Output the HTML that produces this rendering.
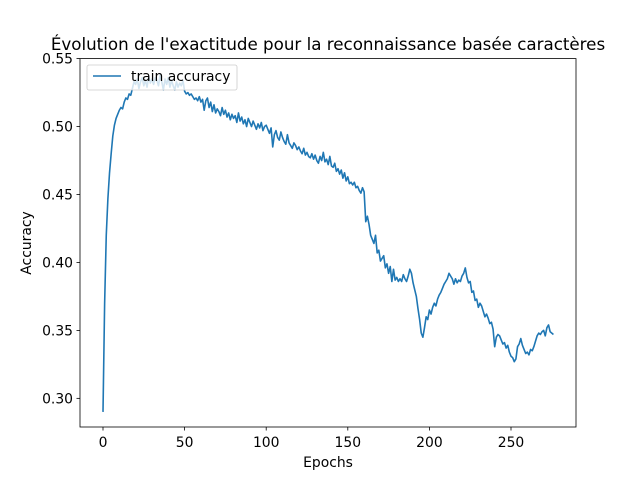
<!DOCTYPE html>
<html><head><meta charset="utf-8"><style>
body{margin:0;background:#fff}
svg{display:block;font-family:"DejaVu Sans","Liberation Sans",sans-serif}
</style></head><body>
<svg id="chart" width="640" height="480">
<rect x="0" y="0" width="640" height="480" fill="#fff"/>
<text x="328" y="50" text-anchor="middle" font-size="16.7">Évolution de l'exactitude pour la reconnaissance basée caractères</text>
<g id="xticks"></g>
<g id="yticks"></g>
<path id="line" fill="none" stroke="#1f77b4" stroke-width="1.6" stroke-linejoin="round"/>
<rect x="80" y="58.6" width="496" height="368.4" fill="none" stroke="#000" stroke-width="0.8"/>
<text x="328" y="467" text-anchor="middle" font-size="13.9">Epochs</text>
<text transform="translate(31,243) rotate(-90)" text-anchor="middle" font-size="13.9">Accuracy</text>
<g>
<rect x="87" y="65" width="150" height="25" rx="2" fill="#fff" fill-opacity="0.8" stroke="#ccc" stroke-width="0.8"/>
<line x1="93" y1="76" x2="121" y2="76" stroke="#1f77b4" stroke-width="1.5"/>
<text x="131" y="81" font-size="13.9">train accuracy</text>
</g>
</svg>
<script>
const xTicks=[0,50,100,150,200,250];
const yTicks=[0.30,0.35,0.40,0.45,0.50,0.55];
const yTickLabels=["0.30","0.35","0.40","0.45","0.50","0.55"];
const accuracy=[.290,.370,.420,.447,.466,.480,.493,.501,.506,.509,
.512,.514,.513,.518,.521,.520,.524,.523,.528,.533,
.531,.535,.528,.533,.536,.530,.534,.529,.537,.532,
.535,.531,.536,.534,.530,.538,.533,.527,.535,.531,
.536,.529,.534,.530,.527,.533,.529,.532,.530,.534,
.526,.524,.525,.523,.524,.522,.520,.521,.519,.522,
.518,.520,.512,.519,.521,.514,.518,.511,.516,.510,
.513,.511,.508,.514,.509,.512,.507,.510,.505,.509,
.506,.508,.503,.510,.504,.507,.502,.505,.500,.506,
.503,.500,.504,.501,.498,.502,.499,.503,.497,.500,
.501,.498,.495,.499,.485,.494,.497,.492,.490,.496,
.492,.489,.487,.494,.488,.486,.484,.488,.486,.483,
.485,.482,.480,.484,.479,.481,.478,.477,.480,.476,
.479,.475,.473,.478,.475,.481,.474,.476,.472,.478,
.471,.470,.473,.467,.469,.465,.468,.462,.466,.460,
.463,.458,.459,.457,.459,.455,.456,.453,.451,.455,
.452,.430,.434,.428,.420,.417,.414,.420,.407,.409,
.401,.403,.405,.396,.399,.392,.397,.386,.395,.387,
.389,.386,.388,.386,.391,.388,.386,.390,.395,.392,
.385,.380,.375,.366,.358,.348,.345,.352,.360,.358,
.365,.362,.367,.370,.368,.373,.376,.378,.381,.384,
.386,.388,.392,.390,.388,.384,.388,.385,.387,.386,
.390,.392,.396,.389,.385,.386,.378,.379,.372,.373,
.367,.370,.368,.364,.360,.362,.359,.355,.356,.351,
.338,.345,.347,.346,.343,.340,.341,.337,.339,.334,
.331,.330,.327,.329,.338,.340,.344,.339,.336,.333,
.334,.332,.336,.335,.338,.342,.346,.348,.347,.349,
.350,.346,.352,.354,.349,.348,.347];
const NS="http://www.w3.org/2000/svg";
function sx(e){return 103+e*1.632;}
function sy(v){return 58.6+(0.55-v)*1359;}
function mk(tag,attrs,parent){const el=document.createElementNS(NS,tag);for(const k in attrs)el.setAttribute(k,attrs[k]);parent.appendChild(el);return el;}
const xg=document.getElementById('xticks');
xTicks.forEach(t=>{
  const l=mk('line',{x1:sx(t),x2:sx(t),y1:427,y2:430.5,stroke:'#000','stroke-width':0.8},xg);
  
  
  const tx=mk('text',{x:sx(t),y:447,'text-anchor':'middle','font-size':13.9},xg);
  tx.textContent=String(t);
  
  
});
const yg=document.getElementById('yticks');
yTicks.forEach((t,i)=>{
  const l=mk('line',{x1:76.5,x2:80,y1:sy(t),y2:sy(t),stroke:'#000','stroke-width':0.8},yg);
  
  
  const tx=mk('text',{x:73,y:sy(t)+5,'text-anchor':'end','font-size':13.9},yg);
  tx.textContent=yTickLabels[i];
  
  
});
document.getElementById('line').setAttribute('d',accuracy.map((v,i)=>(i?'L':'M')+sx(i).toFixed(2)+','+sy(v).toFixed(2)).join(''));
</script>
</body></html>
